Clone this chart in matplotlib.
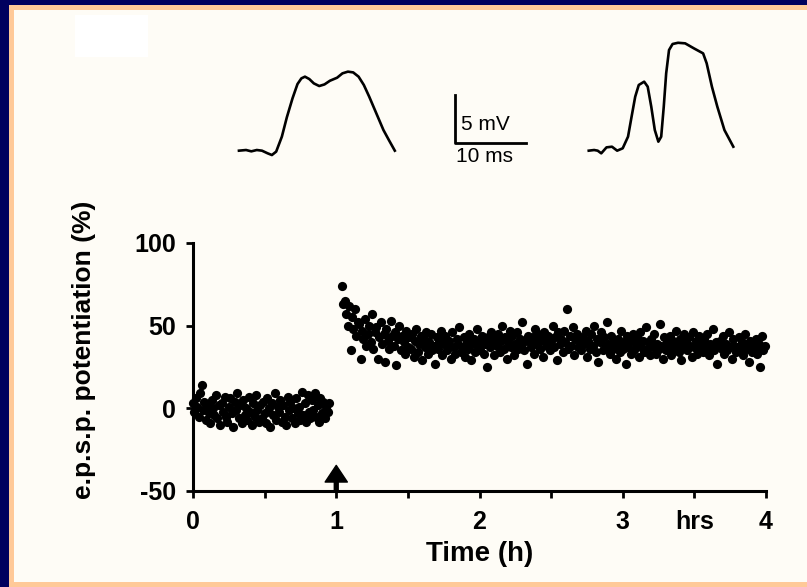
import numpy as np
import matplotlib
matplotlib.use("Agg")
import matplotlib.pyplot as plt
from matplotlib.patches import Rectangle

plt.rcParams['font.family'] = ['Liberation Sans', 'DejaVu Sans']

# e.p.s.p. potentiation (%) - baseline before tetanus, sampled every 0.01 h from t=0
base_start = 0.0
base_y = [3, -2, 6, 1, -5, 9, 14, -1, 4, -7, 2, -3,
          -9, 5, 0, -4, 8, -6, 2, -10, 3, -2, 7, -5,
          -8, 1, 6, -3, -11, 4, -1, 9, -6, 2, -9, 5,
          -4, 0, -7, 7, -2, -10, 3, -5, 8, -1, -8, 2,
          -6, 4, -3, -9, 6, 0, -11, 3, -4, 9, -7, 1,
          -2, 5, -8, 2, -5, -10, 7, -1, 4, -6, 0, -9,
          6, -3, 1, -7, 10, -4, 3, -8, 8, -2, -6, 5,
          -1, 9, -5, 2, -8, 6, -3, 4, -6, 1, -2, 3]

# after tetanus, sampled every 0.01 h from t=1.04
post_start = 1.04
post_y = [74, 63, 65, 57, 50, 62, 35, 55, 48, 60, 44, 52,
          51, 30, 47, 42, 54, 38, 45, 50, 40, 57, 36, 46,
          49, 30, 43, 52, 39, 45, 28, 48, 41, 36, 53, 44,
          38, 46, 26, 42, 50, 35, 44, 40, 33, 47, 37, 43,
          36, 45, 31, 41, 48, 34, 39, 44, 29, 42, 37, 46,
          33, 40, 45, 35, 38, 27, 43, 36, 41, 47, 32, 39,
          44, 35, 38, 41, 30, 46, 37, 33, 42, 39, 49, 34,
          37, 43, 31, 40, 36, 45, 29, 39, 42, 34, 48, 38,
          35, 41, 44, 33, 39, 25, 43, 37, 46, 40, 32, 42,
          38, 45, 34, 41, 50, 36, 43, 30, 40, 47, 37, 44,
          32, 39, 46, 36, 42, 38, 52, 35, 41, 27, 44, 40,
          37, 43, 33, 48, 39, 45, 36, 42, 31, 46, 40, 38,
          44, 35, 41, 50, 37, 43, 29, 46, 39, 42, 34, 47,
          40, 60, 36, 44, 38, 49, 32, 42, 45, 37, 41, 35,
          43, 39, 47, 31, 41, 36, 45, 38, 50, 34, 42, 28,
          40, 46, 35, 43, 37, 52, 39, 33, 44, 36, 41, 30,
          38, 42, 34, 47, 36, 40, 27, 44, 37, 41, 33, 45,
          35, 39, 43, 31, 46, 37, 41, 34, 49, 36, 40, 32,
          42, 37, 45, 33, 39, 36, 51, 38, 30, 43, 35, 40,
          37, 44, 32, 41, 36, 47, 39, 34, 42, 29, 38, 45,
          40, 35, 43, 38, 31, 46, 37, 41, 33, 44, 36, 39,
          34, 42, 37, 45, 32, 39, 36, 48, 35, 40, 27, 38,
          41, 36, 44, 33, 39, 35, 46, 37, 30, 42, 38, 34,
          37, 43, 35, 40, 32, 45, 36, 39, 28, 41, 34, 38,
          36, 42, 33, 39, 25, 44, 35, 38]
step_h = 0.01
tetanus_h = 1.0

xticks = [0, 0.5, 1, 1.5, 2, 2.5, 3, 3.5, 4]
xticklabels = ['0', '', '1', '', '2', '', '3', 'hrs', '4']
yticks = [-50, 0, 50, 100]
yticklabels = ['-50', '0', '50', '100']

# example epsp traces (ms, mV)
pre_t = [1.26, 2.26, 3.0, 3.77, 4.5, 5.3, 5.9, 6.5, 7.3, 8.0, 8.8, 9.5, 10.05, 10.55,
         11.16, 11.8, 12.56, 13.3, 14.07, 15.08, 15.83, 16.6, 17.34, 18.1, 18.84,
         19.6, 20.6, 21.6, 22.36, 23.2]
pre_v = [0, 0.07, -0.07, 0.07, 0, -0.28, -0.46, -0.1, 1.48, 3.52, 5.53, 7.04, 7.64, 7.82,
         7.57, 7.11, 6.83, 7.0, 7.39, 7.71, 8.17, 8.35, 8.27, 7.82, 6.94,
         5.7, 3.94, 2.18, 1.13, 0]
post_t = [50.5, 51.26, 51.76, 52.26, 53.0, 53.77, 54.5, 55.28, 56.03, 56.53, 57.04, 57.54,
          58.3, 58.8, 59.3, 59.8, 60.3, 60.7, 61.06, 61.4, 61.8, 62.3, 63.07, 64.07,
          65.33, 66.6, 67.1, 67.84, 68.6, 69.6, 70.85]
post_v = [0, 0.07, 0, -0.28, 0.35, 0.42, 0, 0.25, 1.48, 3.59, 5.7, 6.94,
          7.29, 6.76, 4.65, 2.18, 0.95, 1.48, 4.65, 8.17, 10.63, 11.27, 11.4, 11.34,
          10.8, 10.28, 9.23, 6.76, 4.65, 2.18, 0.42]
bar_mv = 5
bar_ms = 10

W, H = 807, 587
fig = plt.figure(figsize=(W / 100, H / 100), dpi=100, facecolor='#00005e')

# peach frame and cream page
fig.add_artist(Rectangle((9 / W, 0), 1, (H - 5) / H, transform=fig.transFigure,
                         facecolor='#ffc998', edgecolor='none', zorder=-10))
fig.add_artist(Rectangle((14 / W, 5 / H), 1, (H - 15) / H, transform=fig.transFigure,
                         facecolor='#fefcf6', edgecolor='none', zorder=-9))
fig.add_artist(Rectangle((75 / W, 1 - 57 / H), 73 / W, 42 / H, transform=fig.transFigure,
                         facecolor='white', edgecolor='none', zorder=-8))

# main plot
ax = fig.add_axes([193 / W, 1 - 491 / H, 573 / W, 248 / H])
ax.set_facecolor('none')
base_t = base_start + step_h * np.arange(len(base_y))
post_tt = post_start + step_h * np.arange(len(post_y))
ax.scatter(base_t, base_y, s=44, c='black', linewidths=0, clip_on=False)
ax.scatter(post_tt, post_y, s=44, c='black', linewidths=0, clip_on=False)

ax.annotate('', xy=(tetanus_h, -34.5), xytext=(tetanus_h, -50),
            arrowprops=dict(facecolor='black', edgecolor='black', width=2.8,
                            headwidth=16, headlength=12, shrink=0))

ax.set_xlim(0, 4)
ax.set_ylim(-50, 100)
ax.spines['top'].set_visible(False)
ax.spines['right'].set_visible(False)
for s in ['left', 'bottom']:
    ax.spines[s].set_linewidth(2.2)
ax.set_xticks(xticks)
ax.set_xticklabels(xticklabels)
ax.set_yticks(yticks)
ax.set_yticklabels(yticklabels)
ax.tick_params(direction='out', length=5, width=2, labelsize=18)
ax.tick_params(axis='x', pad=9)
ax.tick_params(axis='y', pad=7)
for lab in ax.get_xticklabels() + ax.get_yticklabels():
    lab.set_fontweight('bold')
ax.set_xlabel('Time (h)', fontsize=20, fontweight='bold', labelpad=5)
ax.set_ylabel('e.p.s.p. potentiation (%)', fontsize=19, fontweight='bold')
ax.yaxis.set_label_coords(-0.17, 0.57)

# traces with scale bar
ax2 = fig.add_axes([230 / W, 1 - 175 / H, 520 / W, 145 / H])
ax2.set_facecolor('none')
ax2.axis('off')
ax2.plot(pre_t, pre_v, color='black', lw=1.9)
ax2.plot(post_t, post_v, color='black', lw=1.9)
bx, by = 31.66, 0.85
ax2.plot([bx, bx, bx + bar_ms], [by + bar_mv, by, by], color='black', lw=2)
ax2.text(bx + 0.8, by + 1.3, '%d mV' % bar_mv, fontsize=15, ha='left', va='baseline')
ax2.text(bx + 0.2, by - 0.5, '%d ms' % bar_ms, fontsize=15, ha='left', va='top')
ax2.set_xlim(0, 73.2)
ax2.set_ylim(-2.57, 12.75)

fig.savefig('out.png', dpi=100, facecolor=fig.get_facecolor())
